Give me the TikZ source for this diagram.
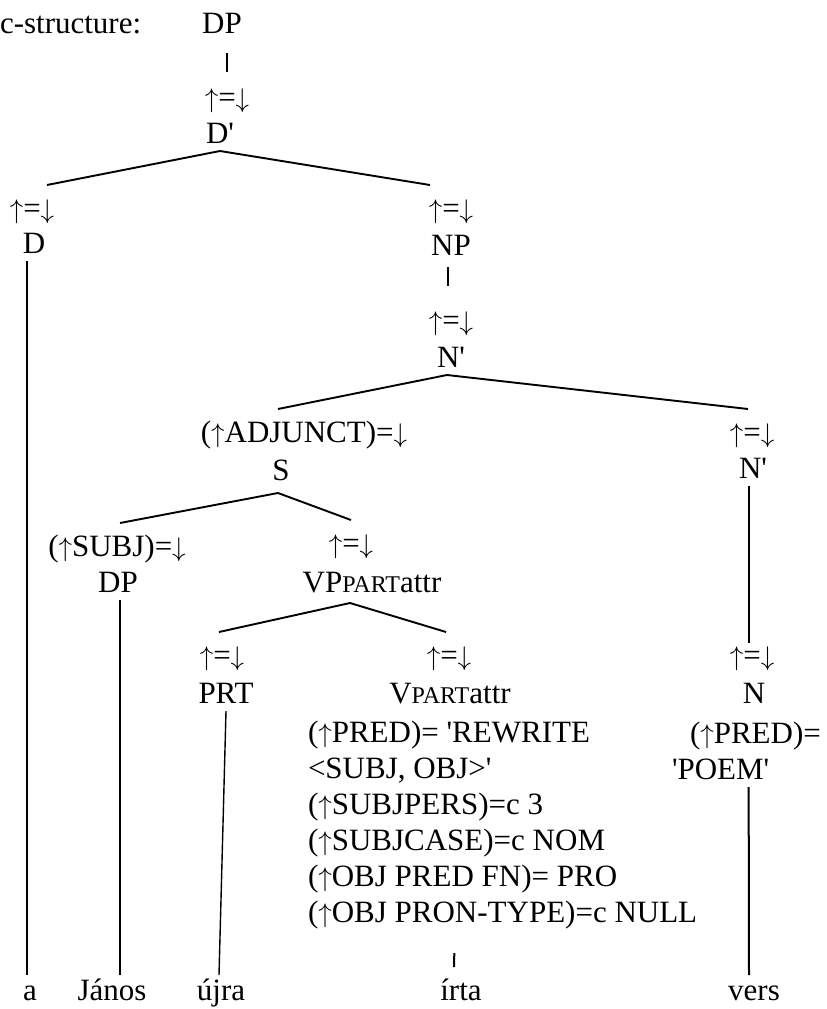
\RequirePackage{fix-cm}
\documentclass[tikz,border=0pt]{standalone}
\usepackage{fontspec}
\setmainfont{Liberation Serif}
\usetikzlibrary{calc}
\def\treefont{\fontsize{31}{36}\selectfont}
\def\partsc{{\fontsize{24}{24}\selectfont PART}}
\def\sq{\textquotesingle}
\def\uarr{{\fontsize{27}{27}\selectfont$\uparrow$}}
\def\darr{{\fontsize{27}{27}\selectfont$\downarrow$}}
\def\eqa{\uarr=\darr}

\begin{document}
\begin{tikzpicture}[x=1pt, y=-1pt,
		every node/.style={font=\treefont, inner sep=0pt, outer xsep=0pt, outer ysep=8pt, text height=22pt, text depth=0pt, anchor=base},
		ann/.style={outer ysep=11pt},
		word/.style={outer ysep=3pt},
		branch/.style={line width=1.9pt},
		thin/.style={line width=1.4pt},
		thick/.style={line width=2pt}]
			%%%%% START %%%%%
			\useasboundingbox (0, 0) rectangle (827, 1009);
			
			\node[anchor=base west] (cs) at (0, 33) {c-structure:};
			\node (DPtop) at (222, 33) {DP};
			\node[ann] (aDbar) at (227, 107) {\eqa};
			\node (Dbar) at (220, 143) {D\sq};
			
			\node[ann] (aD) at (32, 218) {\eqa};
			\node (D) at (34, 253) {D};
			\node[ann] (aNP) at (451, 218) {\eqa};
			\node (NP) at (451, 255) {NP};
			
			\node[ann] (aNbar) at (451, 330) {\eqa};
			\node (Nbar) at (451, 367) {N\sq};
			
			\node[ann] (aS) at (304, 442) {(\uarr ADJUNCT)=\darr};
			\node[outer ysep=13pt] (S) at (281, 480) {S};
			\node[ann] (aNbarR) at (752, 442) {\eqa};
			\node (NbarR) at (753, 478) {N\sq};
			
			\node[ann] (aDPs) at (117, 556) {(\uarr SUBJ)=\darr};
			\node (DPs) at (118, 592) {DP};
			\node[ann] (aVP) at (351, 553) {\eqa};
			\node[outer ysep=11pt] (VP) at (372, 592) {VP\partsc attr};
			
			\node[ann] (aPRT) at (222, 665) {\eqa};
			\node (PRT) at (226, 703) {PRT};
			\node[ann] (aV) at (449, 665) {\eqa};
			\node (V) at (450, 703) {V\partsc attr};
			\node[ann] (aN) at (752, 665) {\eqa};
			\node (N) at (754, 703) {N};
			
			\node[anchor=base west] (fV1) at (308, 742) {(\uarr PRED)= \sq REWRITE};
			\node[anchor=base west] (fV2) at (308, 778) {<SUBJ, OBJ>\sq};
			\node[anchor=base west] (fV3) at (308, 814) {(\uarr SUBJPERS)=c 3};
			\node[anchor=base west] (fV4) at (308, 850) {(\uarr SUBJCASE)=c NOM};
			\node[anchor=base west] (fV5) at (308, 886) {(\uarr OBJ PRED FN)= PRO};
			\node[anchor=base west] (fV6) at (308, 922) {(\uarr OBJ PRON-TYPE)=c NULL};
			
			\node[anchor=base west] (fN1) at (690, 743) {(\uarr PRED)=};
			\node[anchor=base west] (fN2) at (672, 779) {\sq POEM\sq};
			
			\node[word] (wa) at (30, 1000) {a};
			\node[word] (wJanos) at (112, 1000) {János};
			\node[word] (wujra) at (221, 1000) {újra};
			\node[word] (wirta) at (461, 1000) {írta};
			\node[word] (wvers) at (754, 1000) {vers};
			
			\draw[thick, shorten <=12pt, shorten >=2pt] ([xshift=5pt]DPtop.south) -- (aDbar.north);
			\draw[branch] (Dbar.south) -- ([xshift=15pt]aD.north);
			\draw[branch] (Dbar.south) -- ([xshift=-21pt]aNP.north);
			\draw[thin] ([xshift=-7pt]D.south) -- ([xshift=-3pt]wa.north);
			\draw[thick, shorten <=4pt, shorten >=11pt] ([xshift=-3pt]NP.south) -- ([xshift=-3pt]aNbar.north);
			
			\draw[branch] ([xshift=-4pt]Nbar.south) -- ([xshift=-26pt]aS.north);
			\draw[branch] ([xshift=-4pt]Nbar.south) -- ([xshift=-4pt]aNbarR.north);
			\draw[branch] ([xshift=-3pt]S.south) -- ([xshift=3pt]aDPs.north);
			\draw[branch] ([xshift=-3pt]S.south) -- (aVP.north);
			\draw[thin] ([xshift=2pt]DPs.south) -- ([xshift=8pt]wJanos.north);
			\draw[thick, shorten >=-11pt] ([xshift=-4pt]NbarR.south) -- ([xshift=-3pt]aN.north);
			
			\draw[branch] ([xshift=-22pt]VP.south) -- ([xshift=-3pt]aPRT.north);
			\draw[branch] ([xshift=-22pt]VP.south) -- ([xshift=-3pt]aV.north);
			\draw[thin] (PRT.south) -- ([xshift=-2pt]wujra.north);
			\draw[thick, shorten <=23pt, shorten >=8pt] ([xshift=-48pt]fV6.south) -- ([xshift=-7pt]wirta.north);
			\draw[thick] ([xshift=28pt]fN2.south) -- ([xshift=-5pt]wvers.north);
			
			%%%%% END %%%%%
\end{tikzpicture}
\end{document}
